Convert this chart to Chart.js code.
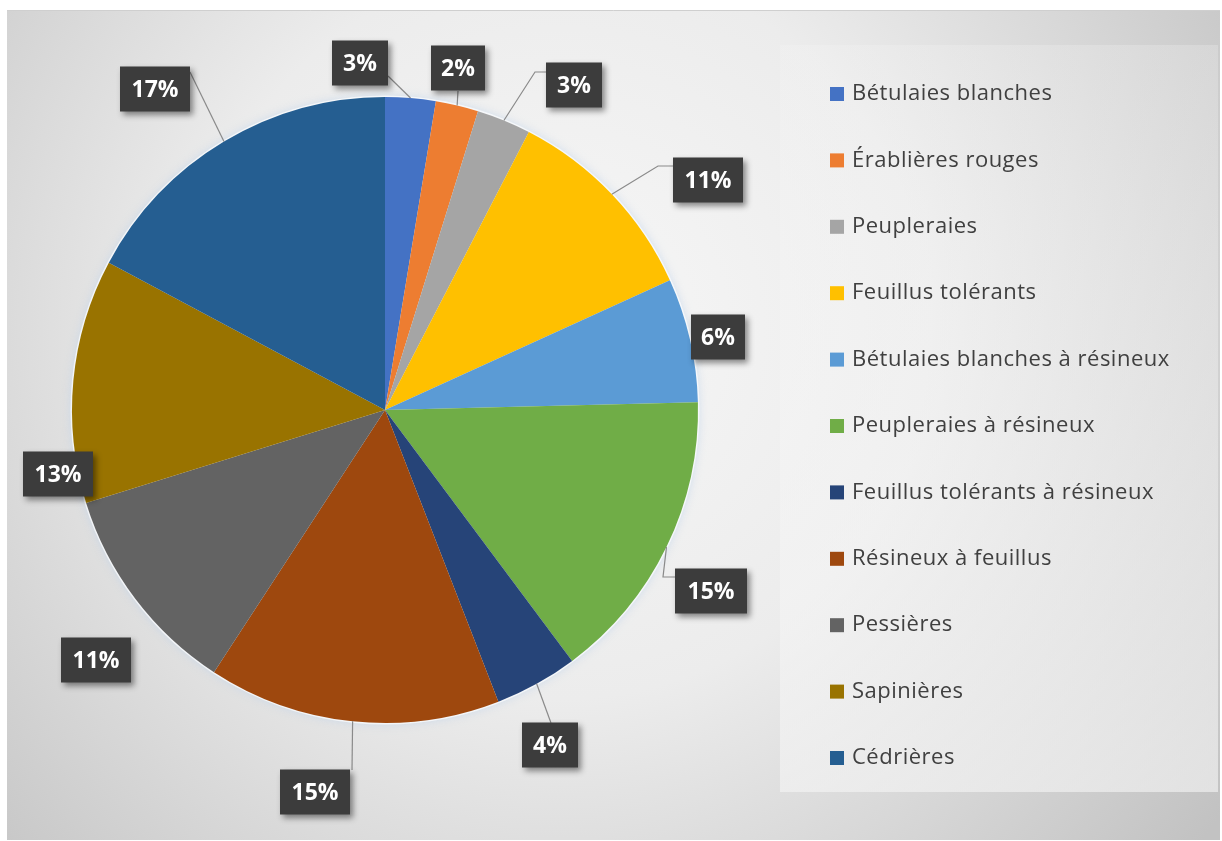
<!DOCTYPE html>
<html>
<head>
<meta charset="utf-8">
<script src="https://cdn.jsdelivr.net/npm/chart.js@4.4.0/dist/chart.umd.min.js"></script>
<style>
  html, body { margin: 0; padding: 0; background: #ffffff; }
  #wrap { width: 1222px; height: 841px; position: relative; }
</style>
</head>
<body>
<div id="wrap"><canvas id="c" width="1222" height="841"></canvas></div>
<script>
// ---- data ----
const categories = [
  "Bétulaies blanches",
  "Érablières rouges",
  "Peupleraies",
  "Feuillus tolérants",
  "Bétulaies blanches à résineux",
  "Peupleraies à résineux",
  "Feuillus tolérants à résineux",
  "Résineux à feuillus",
  "Pessières",
  "Sapinières",
  "Cédrières"
];
const shares = [2.6, 2.2, 2.8, 10.6, 6.4, 15.2, 4.3, 15.1, 11.0, 12.6, 17.2];
const colors = [
  "#4472C4", "#ED7D31", "#A5A5A5", "#FFC000", "#5B9BD5",
  "#70AD47", "#264478", "#9E480E", "#636363", "#997300", "#255E91"
];

// ---- layout of the data labels (box centre, box width, elbow / attach points) ----
const labelLayout = [
  { cx: 360, cy: 63,  w: 56, path: [[388, 76]] },
  { cx: 458, cy: 68,  w: 54, path: [[458, 91]] },
  { cx: 574, cy: 85,  w: 56, path: [[535, 72], [547, 72]] },
  { cx: 708, cy: 180, w: 70, path: [[658, 166], [673, 166]] },
  { cx: 718, cy: 337, w: 54, path: null },
  { cx: 711, cy: 591, w: 72, path: [[663, 577], [675, 577]] },
  { cx: 550, cy: 745, w: 56, path: [[551, 723]] },
  { cx: 315, cy: 792, w: 70, path: [[352, 770]] },
  { cx: 96,  cy: 660, w: 70, path: null },
  { cx: 58,  cy: 474, w: 70, path: null },
  { cx: 155, cy: 89,  w: 70, path: [[190, 72]] }
];

const bgPlugin = {
  id: 'bg',
  beforeDraw(chart) {
    const ctx = chart.ctx;
    ctx.save();
    ctx.fillStyle = '#ffffff';
    ctx.fillRect(0, 0, 1222, 841);
    const g = ctx.createRadialGradient(560, 330, 0, 560, 330, 820);
    g.addColorStop(0, '#f7f7f7');
    g.addColorStop(0.45, '#ececec');
    g.addColorStop(1, '#c2c2c2');
    ctx.fillStyle = g;
    ctx.fillRect(7, 10, 1213, 830);
    ctx.strokeStyle = '#cfcfcf';
    ctx.lineWidth = 1;
    ctx.beginPath();
    ctx.moveTo(7, 10.5); ctx.lineTo(1220, 10.5);
    ctx.stroke();
    // legend panel
    const pg = ctx.createLinearGradient(0, 45, 0, 792);
    pg.addColorStop(0, 'rgba(246,246,246,0.25)');
    pg.addColorStop(1, 'rgba(246,246,246,0.6)');
    ctx.fillStyle = pg;
    ctx.fillRect(780, 45, 438, 747);
    ctx.restore();
  },
  beforeDatasetsDraw(chart) {
    const arc = chart.getDatasetMeta(0).data[0];
    if (!arc) return;
    const ctx = chart.ctx;
    ctx.save();
    ctx.shadowColor = 'rgba(190,210,235,0.9)';
    ctx.shadowBlur = 8;
    ctx.fillStyle = 'rgba(255,255,255,0.7)';
    ctx.beginPath();
    ctx.arc(arc.x, arc.y, arc.outerRadius + 1.5, 0, Math.PI * 2);
    ctx.fill();
    ctx.restore();
  }
};

const legendPlugin = {
  id: 'customLegend',
  afterDraw(chart) {
    const ctx = chart.ctx;
    ctx.save();
    ctx.font = '22px "Open Sans", "Liberation Sans", sans-serif';
    try { ctx.letterSpacing = '0.5px'; } catch (e) {}
    ctx.textBaseline = 'middle';
    const labels = chart.data.labels;
    const cols = chart.data.datasets[0].backgroundColor;
    for (let i = 0; i < labels.length; i++) {
      const y = 94 + i * 66.4;
      ctx.fillStyle = cols[i];
      ctx.fillRect(830, y - 7, 14, 14);
      ctx.fillStyle = '#404040';
      ctx.fillText(labels[i], 852, y);
    }
    ctx.restore();
  }
};

const labelPlugin = {
  id: 'pctLabels',
  afterDatasetsDraw(chart) {
    const ctx = chart.ctx;
    const meta = chart.getDatasetMeta(0);
    const vals = chart.data.datasets[0].data;
    const total = vals.reduce((a, b) => a + b, 0);
    ctx.save();
    // leader lines
    ctx.strokeStyle = '#8a8a8a';
    ctx.lineWidth = 1.2;
    meta.data.forEach((arc, i) => {
      const L = labelLayout[i];
      if (!L.path) return;
      const a = (arc.startAngle + arc.endAngle) / 2;
      const ex = arc.x + arc.outerRadius * Math.cos(a);
      const ey = arc.y + arc.outerRadius * Math.sin(a);
      ctx.beginPath();
      ctx.moveTo(ex, ey);
      L.path.forEach(p => ctx.lineTo(p[0], p[1]));
      ctx.stroke();
    });
    // boxes
    meta.data.forEach((arc, i) => {
      const L = labelLayout[i];
      const h = 45;
      ctx.save();
      ctx.shadowColor = 'rgba(0,0,0,0.45)';
      ctx.shadowBlur = 6;
      ctx.shadowOffsetX = 3;
      ctx.shadowOffsetY = 3;
      ctx.fillStyle = '#3c3c3c';
      ctx.fillRect(L.cx - L.w / 2, L.cy - h / 2, L.w, h);
      ctx.restore();
      ctx.fillStyle = '#ffffff';
      ctx.font = 'bold 23px "Open Sans", "Liberation Sans", sans-serif';
      ctx.textAlign = 'center';
      ctx.textBaseline = 'middle';
      ctx.fillText(Math.round(vals[i] / total * 100) + '%', L.cx, L.cy + 1);
    });
    ctx.restore();
  }
};

new Chart(document.getElementById('c'), {
  type: 'pie',
  data: {
    labels: categories,
    datasets: [{
      data: shares,
      backgroundColor: colors,
      borderWidth: 0
    }]
  },
  options: {
    responsive: false,
    animation: false,
    layout: { padding: { left: 72, right: 524, top: 97, bottom: 118 } },
    plugins: {
      legend: { display: false },
      tooltip: { enabled: false }
    }
  },
  plugins: [bgPlugin, legendPlugin, labelPlugin]
});
</script>
</body>
</html>
